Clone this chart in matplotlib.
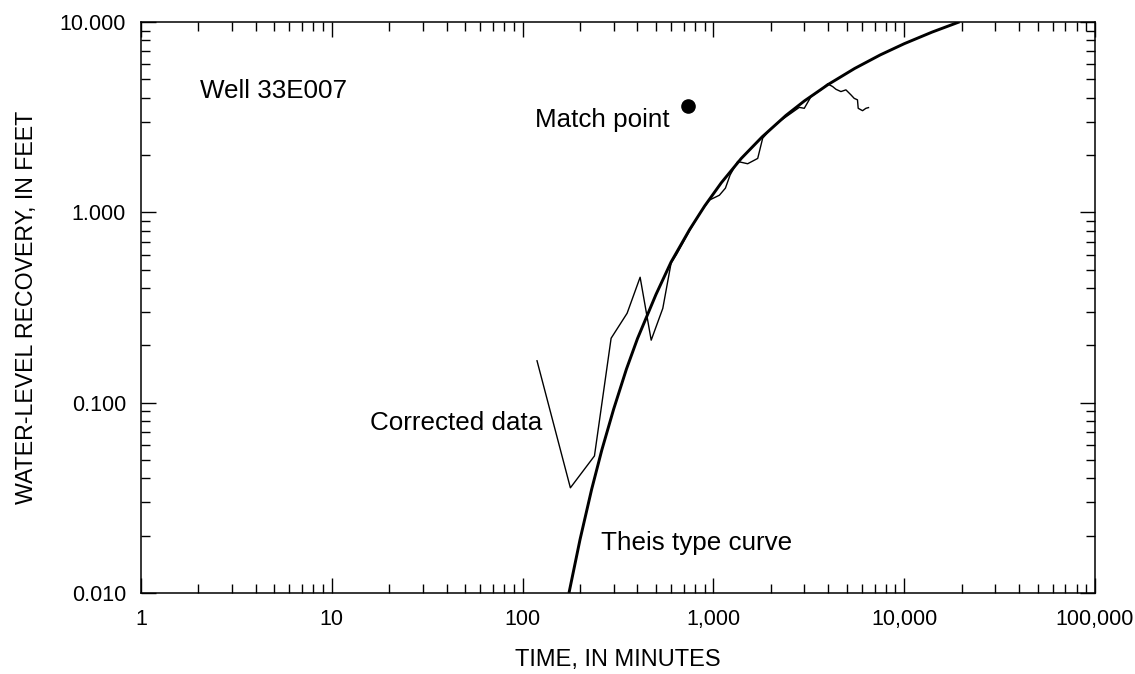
import numpy as np
import matplotlib.pyplot as plt
from matplotlib.ticker import FixedLocator, LogLocator, NullFormatter

plt.rcParams['font.family'] = ['Liberation Sans', 'DejaVu Sans']

# Theis type curve (minutes, feet)
theis_t = [175, 200, 230, 260, 300, 350, 400, 500, 600, 750, 900, 1100, 1400,
           1800, 2400, 3000, 4000, 5500, 7500, 10000, 14000, 19500]
theis_s = [0.0100, 0.0191, 0.0350, 0.0563, 0.0924, 0.150, 0.217, 0.370, 0.548,
           0.811, 1.08, 1.43, 1.92, 2.49, 3.23, 3.85, 4.70, 5.70, 6.72, 7.69,
           8.85, 10.02]

# corrected water-level recovery for well 33E007
data_t = [119, 178, 238, 291, 353, 413, 472, 543, 600, 640, 750, 850, 953,
          1075, 1156, 1223, 1340, 1512, 1707, 1812, 2000, 2217, 2820, 2994,
          3245, 3660, 3970, 4216, 4390, 4660, 4950, 5260, 5470, 5690, 5740,
          6050, 6300, 6500]
data_s = [0.166, 0.0357, 0.0525, 0.218, 0.295, 0.456, 0.213, 0.313, 0.541,
          0.60, 0.80, 0.99, 1.16, 1.23, 1.34, 1.57, 1.85, 1.80, 1.92, 2.45,
          2.75, 3.00, 3.56, 3.52, 4.05, 4.40, 4.73, 4.58, 4.43, 4.31, 4.40,
          4.14, 3.97, 3.90, 3.52, 3.42, 3.52, 3.55]

match_t = 740
match_s = 3.62

x_ticks = [1, 10, 100, 1000, 10000, 100000]
x_labels = ['1', '10', '100', '1,000', '10,000', '100,000']
y_ticks = [0.01, 0.1, 1, 10]
y_labels = ['0.010', '0.100', '1.000', '10.000']

fig = plt.figure(figsize=(11.35, 6.74), dpi=100)
ax = fig.add_axes([141 / 1135, 1 - 593 / 674, 954 / 1135, 571 / 674])

ax.plot(theis_t, theis_s, color='black', lw=2.1, solid_capstyle='butt')
ax.plot(data_t, data_s, color='black', lw=1.0)
ax.plot([match_t], [match_s], 'o', color='black', ms=9.5)

ax.set_xscale('log')
ax.set_yscale('log')
ax.set_xlim(1, 100000)
ax.set_ylim(0.01, 10)

ax.xaxis.set_major_locator(FixedLocator(x_ticks))
ax.set_xticklabels(x_labels)
ax.yaxis.set_major_locator(FixedLocator(y_ticks))
ax.set_yticklabels(y_labels)
for axis in (ax.xaxis, ax.yaxis):
    axis.set_minor_locator(LogLocator(base=10, subs=np.arange(2, 10), numticks=20))
    axis.set_minor_formatter(NullFormatter())

ax.tick_params(which='both', direction='in', top=True, right=True,
               width=1.0, color='black', labelsize=15.5)
ax.tick_params(which='major', length=11)
ax.tick_params(which='minor', length=6.5)
ax.tick_params(axis='x', which='major', pad=11.5)
ax.tick_params(axis='y', which='major', pad=10.8)
for sp in ax.spines.values():
    sp.set_linewidth(1.1)

ax.set_xlabel('TIME, IN MINUTES', fontsize=17, va='center')
ax.xaxis.set_label_coords(0.5, -(660 - 593) / 571)
ax.set_ylabel('WATER-LEVEL RECOVERY, IN FEET', fontsize=16.7, va='center', ha='center')
ax.yaxis.set_label_coords((27 - 141) / 954, 0.5)

ax.text(2.04, 3.98, 'Well 33E007', fontsize=18.7, ha='left', va='baseline')
ax.text(115.6, 2.81, 'Match point', fontsize=18.7, ha='left', va='baseline')
ax.text(15.8, 0.0719, 'Corrected data', fontsize=18.7, ha='left', va='baseline')
ax.text(259, 0.01683, 'Theis type curve', fontsize=18.7, ha='left', va='baseline')

fig.savefig('out.png', dpi=100)
